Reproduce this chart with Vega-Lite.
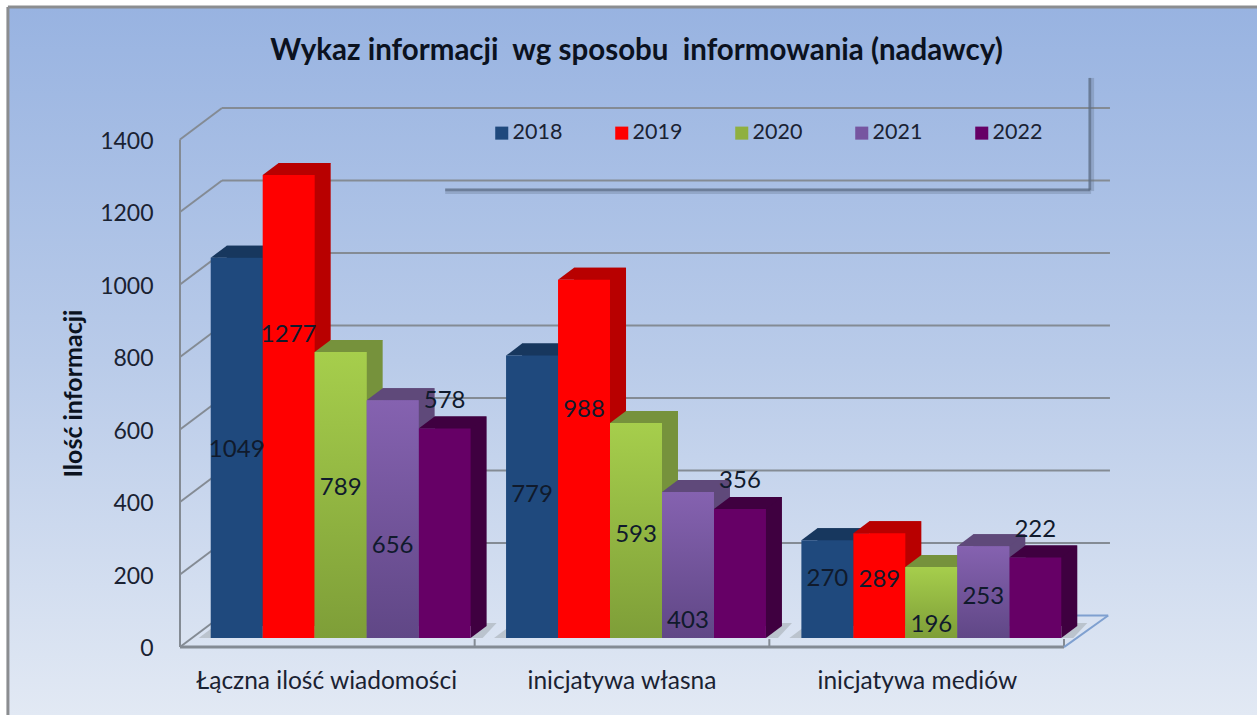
{"$schema":"https://vega.github.io/schema/vega-lite/v6.json","width":1249,"height":708,"padding":{"left":8,"top":7,"right":0,"bottom":0},"autosize":{"type":"none"},"background":"white","view":{"stroke":null,"fill":{"gradient":"linear","x1":0,"y1":0,"x2":0,"y2":1,"stops":[{"offset":0,"color":"#98B3E1"},{"offset":0.5,"color":"#B9CBE9"},{"offset":1,"color":"#E2E9F4"}]}},"title":{"text":"Wykaz informacji \u00a0wg sposobu \u00a0informowania (nadawcy)","font":"Lato","fontSize":29.5,"fontWeight":"bold","color":"#0b1220","anchor":"middle","dx":4,"dy":88,"baseline":"alphabetic"},"datasets":{"bars":[{"category":"Łączna ilość wiadomości","year":"2018","value":1049,"labelAt":519},{"category":"Łączna ilość wiadomości","year":"2019","value":1277,"labelAt":836},{"category":"Łączna ilość wiadomości","year":"2020","value":789,"labelAt":414},{"category":"Łączna ilość wiadomości","year":"2021","value":656,"labelAt":254},{"category":"Łączna ilość wiadomości","year":"2022","value":578,"labelAt":654},{"category":"inicjatywa własna","year":"2018","value":779,"labelAt":394},{"category":"inicjatywa własna","year":"2019","value":988,"labelAt":629},{"category":"inicjatywa własna","year":"2020","value":593,"labelAt":284},{"category":"inicjatywa własna","year":"2021","value":403,"labelAt":47},{"category":"inicjatywa własna","year":"2022","value":356,"labelAt":433},{"category":"inicjatywa mediów","year":"2018","value":270,"labelAt":163},{"category":"inicjatywa mediów","year":"2019","value":289,"labelAt":160},{"category":"inicjatywa mediów","year":"2020","value":196,"labelAt":36},{"category":"inicjatywa mediów","year":"2021","value":253,"labelAt":113},{"category":"inicjatywa mediów","year":"2022","value":222,"labelAt":298}],"grid":[{"level":0,"front":-25,"back":62},{"level":200,"front":175,"back":262},{"level":400,"front":375,"back":462},{"level":600,"front":575,"back":662},{"level":800,"front":775,"back":862},{"level":1000,"front":975,"back":1062},{"level":1200,"front":1175,"back":1262},{"level":1400,"front":1375,"back":1462}],"ticks":[{"pos":0},{"pos":1},{"pos":2},{"pos":3}]},"layer":[{"layer":[{"data":{"values":[{"a":1}]},"mark":{"type":"rule","color":"#8B8D90","strokeWidth":3},"encoding":{"x":{"datum":-0.584,"type":"quantitative","scale":{"domain":[0,3],"range":[172,1056]},"axis":null},"y":{"datum":-213,"type":"quantitative","scale":{"domain":[0,1400],"range":[631,123.5]},"title":"Ilość informacji","axis":{"orient":"left","offset":-145,"title":"Ilość informacji","values":[0,200,400,600,800,1000,1200,1400],"format":"d","grid":false,"domain":false,"ticks":false,"labelPadding":0,"labelOffset":10.5,"labelFont":"Lato","labelFontSize":23,"labelColor":"#1a2232","titleFont":"Lato","titleFontSize":25,"titleFontWeight":"bold","titleColor":"#0b1220","titleX":-67,"titleY":386,"titleAngle":270,"titleAnchor":"middle"}},"y2":{"datum":1741}}},{"data":{"values":[{"a":1}]},"mark":{"type":"rule","color":"#8B8D90","strokeWidth":3},"encoding":{"x":{"datum":-0.584,"type":"quantitative"},"x2":{"datum":3.66},"y":{"datum":1741,"type":"quantitative"}}},{"data":{"name":"grid"},"transform":[{"filter":"datum.level>0"}],"mark":{"type":"rule","color":"#848B94","strokeWidth":2},"encoding":{"x":{"datum":0.1425,"type":"quantitative"},"x2":{"datum":3.156},"y":{"field":"back","type":"quantitative"}}},{"data":{"name":"grid"},"mark":{"type":"rule","color":"#848B94","strokeWidth":2},"encoding":{"x":{"datum":0,"type":"quantitative"},"x2":{"datum":0.1425},"y":{"field":"front","type":"quantitative"},"y2":{"field":"back"}}},{"data":{"values":[{"a":1}]},"mark":{"type":"rule","color":"#848B94","strokeWidth":2},"encoding":{"x":{"datum":0,"type":"quantitative"},"y":{"datum":-25,"type":"quantitative"},"y2":{"datum":1375}}},{"data":{"values":[{"a":1}]},"mark":{"type":"rule","color":"#848B94","strokeWidth":3},"encoding":{"x":{"datum":0,"type":"quantitative"},"x2":{"datum":3},"y":{"datum":-25,"type":"quantitative"}}},{"data":{"name":"ticks"},"mark":{"type":"rule","color":"#848B94","strokeWidth":2},"encoding":{"x":{"field":"pos","type":"quantitative"},"y":{"datum":-25,"type":"quantitative"},"y2":{"datum":-3}}},{"data":{"values":[{"a":1}]},"mark":{"type":"rule","color":"#7FA0D0","strokeWidth":2},"encoding":{"x":{"datum":3,"type":"quantitative"},"x2":{"datum":3.15},"y":{"datum":-25,"type":"quantitative"},"y2":{"datum":62}}},{"data":{"values":[{"a":1}]},"mark":{"type":"rule","color":"#7FA0D0","strokeWidth":2},"encoding":{"x":{"datum":3.03,"type":"quantitative"},"x2":{"datum":3.15},"y":{"datum":62,"type":"quantitative"}}},{"data":{"values":[{"a":1}]},"mark":{"type":"rule","color":"#5D6C85","strokeWidth":6,"opacity":0.3},"encoding":{"x":{"datum":0.9,"type":"quantitative"},"x2":{"datum":3.092},"y":{"datum":1233,"type":"quantitative"}}},{"data":{"values":[{"a":1}]},"mark":{"type":"rule","color":"#5D6C85","strokeWidth":2.5,"opacity":0.7},"encoding":{"x":{"datum":0.9,"type":"quantitative"},"x2":{"datum":3.088},"y":{"datum":1236,"type":"quantitative"}}},{"data":{"values":[{"a":1}]},"mark":{"type":"rule","color":"#5D6C85","strokeWidth":6,"opacity":0.3},"encoding":{"x":{"datum":3.092,"type":"quantitative"},"y":{"datum":1233,"type":"quantitative"},"y2":{"datum":1545}}},{"data":{"values":[{"a":1}]},"mark":{"type":"rule","color":"#5D6C85","strokeWidth":2.5,"opacity":0.7},"encoding":{"x":{"datum":3.088,"type":"quantitative"},"y":{"datum":1236,"type":"quantitative"},"y2":{"datum":1545}}}]},{"data":{"name":"bars"},"resolve":{"scale":{"xOffset":"independent"}},"encoding":{"x":{"field":"category","type":"nominal","sort":null,"title":null,"scale":{"range":[185,1071],"paddingInner":0.12,"paddingOuter":0.06},"axis":{"orient":"bottom","labelAngle":0,"domain":false,"ticks":false,"offset":-46,"labelOffset":-14,"labelPadding":0,"labelLimit":400,"labelFont":"Lato","labelFontSize":24.5,"labelColor":"#1a2232"}},"xOffset":{"field":"year","type":"nominal","sort":null,"scale":{"type":"band","domain":["2018","2019","2020","2021","2022"],"range":[0,259.9],"paddingInner":0,"paddingOuter":0}},"y":{"field":"value","type":"quantitative","scale":{"domain":[0,1400],"range":[631,123.5]}}},"layer":[{"mark":{"type":"point","filled":true,"opacity":0.4,"size":4,"shape":"M-38,0 L-18,-15 L52,-15 L38,0 Z","color":"#8E9698"},"encoding":{"y":{"datum":0,"type":"quantitative"}}},{"mark":{"type":"bar","yOffset":-12},"encoding":{"xOffset":{"field":"year","type":"nominal","sort":null,"scale":{"type":"band","domain":["2018","2019","2020","2021","2022"],"range":[16,275.9],"paddingInner":0,"paddingOuter":0}},"fill":{"field":"year","type":"nominal","scale":{"domain":["2018","2019","2020","2021","2022","-"],"range":["#17375E","#B80000","#76923C","#5F497A","#3F0040","#000000"]},"legend":null}}},{"mark":{"type":"point","filled":true,"opacity":1,"size":4,"shape":"M26,0 L42,-12 L26,-12 Z"},"encoding":{"y":{"datum":0,"type":"quantitative"},"fill":{"field":"year","type":"nominal","legend":null}}},{"mark":{"type":"point","filled":true,"opacity":1,"size":4,"shape":"M-26,0 L-10,-12 L42,-12 L26,0 Z"},"encoding":{"fill":{"field":"year","type":"nominal","legend":null}}},{"mark":{"type":"bar"},"encoding":{"color":{"field":"year","type":"nominal","scale":{"domain":["2018","2019","2020","2021","2022"],"range":["#1F497D","#FF0000","#8FB040","#7655A0","#660066"]},"legend":{"orient":"none","legendX":483,"legendY":115,"direction":"horizontal","title":null,"symbolType":"square","symbolSize":170,"symbolStrokeWidth":0,"labelFont":"Lato","labelFontSize":21.5,"labelColor":"#1a2232","labelOffset":0,"columnPadding":48,"padding":0}}}},{"transform":[{"filter":"datum.year=='2020'"}],"mark":{"type":"bar","fill":{"gradient":"linear","x1":0,"y1":0,"x2":0,"y2":1,"stops":[{"offset":0,"color":"#A6CE4C"},{"offset":1,"color":"#7E9E38"}]}}},{"transform":[{"filter":"datum.year=='2021'"}],"mark":{"type":"bar","fill":{"gradient":"linear","x1":0,"y1":0,"x2":0,"y2":1,"stops":[{"offset":0,"color":"#8562B0"},{"offset":1,"color":"#604786"}]}}},{"mark":{"type":"text","font":"Lato","fontSize":24,"color":"#101a2c","baseline":"middle","align":"center"},"encoding":{"y":{"field":"labelAt","type":"quantitative"},"text":{"field":"value","type":"quantitative","format":"d"}}}]}],"resolve":{"scale":{"x":"independent"}}}
